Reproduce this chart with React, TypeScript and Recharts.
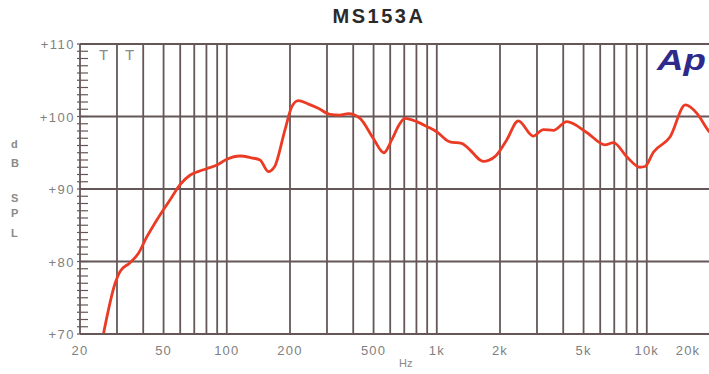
import React from 'react';
import { LineChart, Line, XAxis, YAxis, ReferenceLine } from 'recharts';

const freqs = [25.7, 29.4, 31, 34.5, 37.9, 41.6, 45.5, 49.8, 54.5, 59.9, 66.8, 73, 80.2, 89.7, 100, 115.6, 131, 144, 157.6, 169, 189, 204, 219, 245, 274, 310, 345, 379, 431, 498, 560, 611, 660, 706, 802, 900, 998, 1155, 1312, 1438, 1608, 1663, 1897, 2156, 2444, 2880, 3217, 3590, 4160, 5180, 6325, 6940, 8030, 9280, 9800, 10770, 12920, 15260, 17370, 19600, 20000];
const spl = [69.6, 77.0, 78.6, 79.8, 81.1, 83.4, 85.3, 87.1, 88.8, 90.6, 91.9, 92.4, 92.8, 93.3, 94.1, 94.55, 94.3, 94.0, 92.4, 93.1, 98.1, 101.35, 102.2, 101.7, 101.1, 100.3, 100.2, 100.4, 99.75, 97.0, 95.0, 96.8, 98.8, 99.75, 99.3, 98.6, 97.9, 96.5, 96.3, 95.4, 94.0, 93.8, 94.5, 96.8, 99.4, 97.3, 98.2, 98.1, 99.3, 97.8, 96.1, 96.4, 94.45, 93.0, 93.1, 95.1, 97.2, 101.6, 100.4, 98.1, 97.8];

const xTicks = [20, 50, 100, 200, 500, 1000, 2000, 5000, 10000, 20000];
const xTickLabels = ['20', '50', '100', '200', '500', '1k', '2k', '5k', '10k', '20k'];
const vGrid = [30, 40, 50, 60, 70, 80, 90, 100, 200, 300, 400, 500, 600, 700, 800, 900, 1000, 2000, 3000, 4000, 5000, 6000, 7000, 8000, 9000, 10000, 20000];
const hGrid = [80, 90, 100, 110];
const yTicks = [70, 71, 72, 73, 74, 75, 76, 77, 78, 79, 80, 81, 82, 83, 84, 85, 86, 87, 88, 89, 90, 91, 92, 93, 94, 95, 96, 97, 98, 99, 100, 101, 102, 103, 104, 105, 106, 107, 108, 109, 110];
const yLabelTicks = [70, 80, 90, 100, 110];
const yAxisLetters = ['d', 'B', 'S', 'P', 'L'];

const data = freqs.map((f, i) => ({ f, db: spl[i] }));

const GRID = '#655757';
const LABEL = '#808080';
const FONT = '"Liberation Sans", Arial, sans-serif';

const YTick = (props: any) => {
  const { x, y, payload } = props;
  const v = payload.value;
  const axisX = x + 4;
  const major = yLabelTicks.includes(v);
  return (
    <g>
      <line x1={axisX - 3} x2={axisX + 8} y1={y} y2={y} stroke={GRID} strokeWidth={1.2} />
      {major && (
        <text x={axisX - 5} y={y} dy={5} textAnchor="end" fill={LABEL} fontSize={13} letterSpacing={1.5} fontFamily={FONT}>
          {'+' + v}
        </text>
      )}
    </g>
  );
};

const XTick = (props: any) => {
  const { x, y, payload } = props;
  const idx = xTicks.indexOf(payload.value);
  const last = idx === xTicks.length - 1;
  return (
    <text x={last ? x - 22 : x} y={y} dy={21} textAnchor="middle" fill={LABEL} fontSize={13} letterSpacing={1.2} fontFamily={FONT}>
      {xTickLabels[idx]}
    </text>
  );
};

export default function App() {
  return (
    <div style={{ position: 'absolute', left: 0, top: 0, width: 709, height: 374, overflow: 'hidden', background: '#fff' }}>
      <span style={{ position: 'absolute', left: 379, top: 5, transform: 'translateX(-50%)', fontFamily: FONT, fontWeight: 'bold', fontSize: 20, letterSpacing: 2.5, color: '#2a2a2a', whiteSpace: 'nowrap' }}>MS153A</span>
      <LineChart width={712} height={374} data={data} margin={{ top: 44, right: 2, bottom: 10, left: 20 }}>
        <XAxis
          dataKey="f"
          type="number"
          scale="log"
          domain={[20, 20000]}
          ticks={xTicks}
          allowDataOverflow
          tick={<XTick />}
          tickLine={false}
          tickSize={0}
          tickMargin={0}
          height={30}
          axisLine={{ stroke: GRID, strokeWidth: 1.8 }}
          interval={0}
        />
        <YAxis
          type="number"
          domain={[70, 110]}
          ticks={yTicks}
          allowDataOverflow
          interval={0}
          tick={<YTick />}
          tickLine={false}
          tickSize={4}
          tickMargin={0}
          width={60}
          axisLine={{ stroke: GRID, strokeWidth: 1.8 }}
        />
        {vGrid.map((v) => (
          <ReferenceLine key={'v' + v} x={v} stroke={GRID} strokeWidth={1.8} />
        ))}
        {hGrid.map((v) => (
          <ReferenceLine key={'h' + v} y={v} stroke={GRID} strokeWidth={1.8} />
        ))}
        <Line dataKey="db" type="monotone" stroke="#ec3b25" strokeWidth={2.8} dot={false} isAnimationActive={false} />
      </LineChart>
      {yAxisLetters.map((l, i) => (
        <span key={l} style={{ position: 'absolute', left: 11, top: [138, 157, 192, 207, 227][i], fontFamily: FONT, fontSize: 11, fontWeight: 'bold', color: '#8a8a8a' }}>{l}</span>
      ))}
      <span style={{ position: 'absolute', left: 99, top: 46, fontFamily: FONT, fontSize: 15, color: '#8a8a8a' }}>T</span>
      <span style={{ position: 'absolute', left: 125, top: 46, fontFamily: FONT, fontSize: 15, color: '#8a8a8a' }}>T</span>
      <span style={{ position: 'absolute', left: 657, top: 43, transform: 'scaleX(1.22)', transformOrigin: 'left top', fontFamily: FONT, fontSize: 30, fontWeight: 'bold', fontStyle: 'italic', color: '#2e2a8c', whiteSpace: 'nowrap', lineHeight: 'normal' }}>Ap</span>
      <span style={{ position: 'absolute', left: 399, top: 357, fontFamily: FONT, fontSize: 11, color: '#888' }}>Hz</span>
    </div>
  );
}
